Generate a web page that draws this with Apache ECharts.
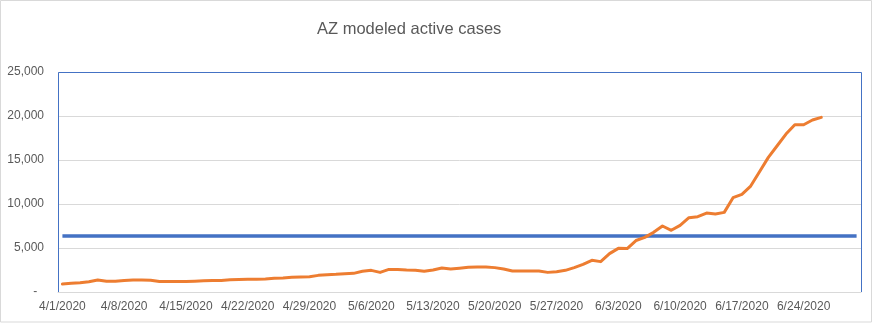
<!DOCTYPE html>
<html>
<head>
<meta charset="utf-8">
<script src="https://cdn.jsdelivr.net/npm/echarts@6/dist/echarts.min.js"></script>
<style>
  html, body { margin: 0; padding: 0; background: #fff; }
  #chart { width: 876px; height: 324px; }
</style>
</head>
<body>
<div id="chart"></div>
<script>
// Daily dates, 4/1/2020 through 6/30/2020
const dates = [];
for (let m = 4; m <= 6; m++) {
  const days = m === 5 ? 31 : 30;
  for (let d = 1; d <= days; d++) dates.push(m + '/' + d + '/2020');
}

// Modeled active cases, 4/1 .. 6/26
const activeCases = [
  900, 990, 1060, 1170, 1360, 1215, 1215, 1320, 1360, 1360,
  1330, 1190, 1190, 1200, 1200, 1230, 1270, 1300, 1300, 1380,
  1410, 1440, 1450, 1480, 1550, 1590, 1670, 1700, 1740, 1890,
  1970, 2010, 2080, 2120, 2350, 2460, 2230, 2570, 2570, 2500,
  2460, 2350, 2500, 2730, 2610, 2700, 2800, 2840, 2840, 2770,
  2610, 2380, 2380, 2380, 2380, 2230, 2310, 2460, 2770, 3140,
  3600, 3450, 4360, 4960, 4940, 5850, 6210, 6780, 7500, 7010,
  7570, 8440, 8560, 8970, 8860, 9050, 10720, 11100, 12040, 13670,
  15300, 16620, 17950, 19010, 19010, 19540, 19850
];

// Flat reference level across the whole period
const thresholdValue = 6360;
const threshold = dates.map(() => thresholdValue);

const yTicks = [0, 5000, 10000, 15000, 20000, 25000];

const W = 876, H = 324;
const gridBox = { left: 58, right: 15, top: 72, bottom: 32 };
const plotW = W - gridBox.left - gridBox.right;
const plotH = H - gridBox.top - gridBox.bottom;

const chart = echarts.init(document.getElementById('chart'), null, { renderer: 'canvas' });

const textColor = '#595959';
const font = 'Liberation Sans';

chart.setOption({
  animation: false,
  backgroundColor: '#ffffff',
  title: {
    text: 'AZ modeled active cases',
    left: 312,
    top: 16,
    textStyle: { color: textColor, fontSize: 16.5, fontWeight: 'normal', fontFamily: font }
  },
  graphic: [
    {
      // outer chart frame
      type: 'rect',
      shape: { x: 0.5, y: 0.5, width: 871, height: 321.5 },
      style: { fill: 'none', stroke: '#d9d9d9', lineWidth: 1 },
      silent: true,
      z: -10
    },
    {
      // plot-area frame: left, top and right edges
      type: 'polyline',
      shape: {
        points: [
          [gridBox.left + 0.5, gridBox.top + plotH],
          [gridBox.left + 0.5, gridBox.top + 0.5],
          [gridBox.left + plotW + 0.5, gridBox.top + 0.5],
          [gridBox.left + plotW + 0.5, gridBox.top + plotH]
        ]
      },
      style: { fill: 'none', stroke: '#4472C4', lineWidth: 1 },
      silent: true,
      z: 1
    }
  ],
  grid: Object.assign({ show: false }, gridBox),
  xAxis: {
    type: 'category',
    data: dates,
    boundaryGap: true,
    axisLine: { show: true, lineStyle: { color: '#d9d9d9', width: 1 } },
    axisTick: { show: false },
    axisLabel: {
      interval: 6,
      color: textColor,
      fontSize: 12,
      fontFamily: font,
      margin: 9
    },
    splitLine: { show: false }
  },
  yAxis: {
    type: 'value',
    min: yTicks[0],
    max: yTicks[yTicks.length - 1],
    interval: 5000,
    axisLine: { show: false },
    axisTick: { show: false },
    axisLabel: {
      color: textColor,
      fontSize: 12,
      fontFamily: font,
      margin: 14,
      formatter: v => v === 0 ? '-  ' : v.toLocaleString('en-US')
    },
    splitLine: { show: true, lineStyle: { color: '#d9d9d9', width: 1 } }
  },
  series: [
    {
      name: 'Threshold',
      type: 'line',
      data: threshold,
      symbol: 'none',
      lineStyle: { color: '#4472C4', width: 3.5 },
      z: 2
    },
    {
      name: 'Active cases',
      type: 'line',
      data: activeCases,
      symbol: 'none',
      lineStyle: { color: '#ED7D31', width: 3, join: 'round', cap: 'round' },
      z: 3
    }
  ]
});
</script>
</body>
</html>
